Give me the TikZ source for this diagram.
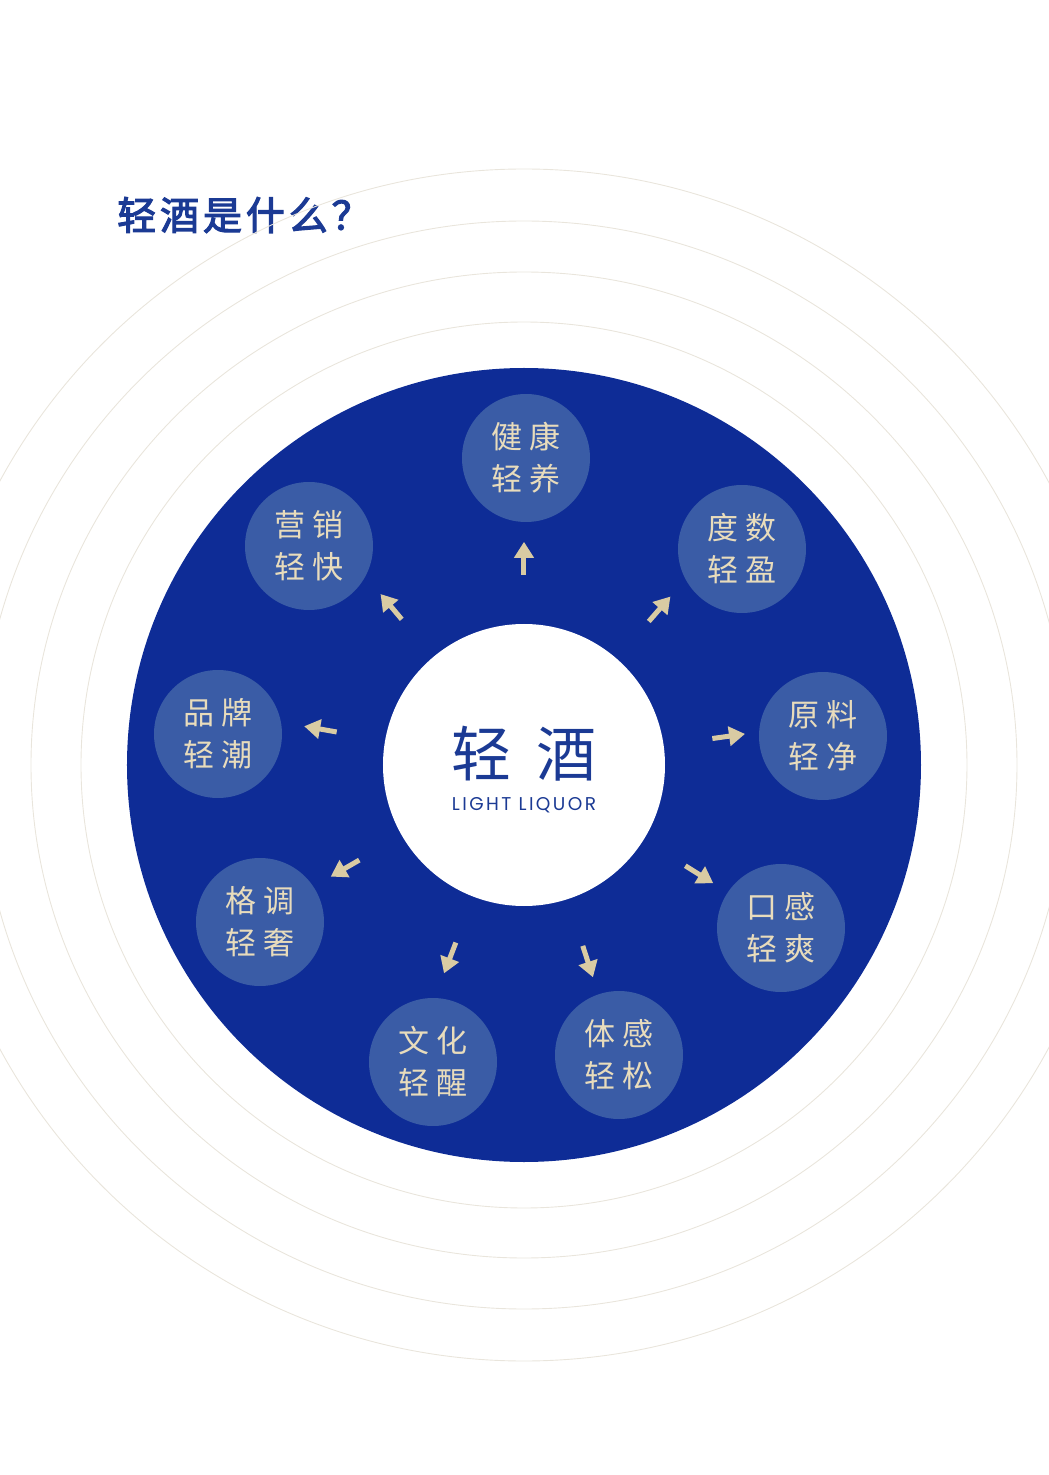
\documentclass[tikz,border=0pt]{standalone}
\usepackage{fontspec}
\setmainfont{Noto Sans CJK SC}
\newfontfamily\titlefont[LetterSpace=10, FakeBold=3]{Noto Sans CJK SC}
\newfontfamily\latinfont[LetterSpace=13]{Poppins}
\usetikzlibrary{arrows.meta}

\definecolor{deepblue}{HTML}{0E2C96}
\definecolor{titleblue}{HTML}{1B3A94}
\definecolor{petalblue}{HTML}{3A5CA6}
\definecolor{sand}{HTML}{E8DCBC}
\definecolor{arrowsand}{HTML}{D9CBA3}
\definecolor{ringgray}{HTML}{E9E5DC}

\newcommand{\duo}[2]{#1\hspace{7pt}#2}

\begin{document}
\begin{tikzpicture}[x=1pt, y=1pt,
    ring/.style={draw=ringgray, line width=0.9pt},
    hub/.style={circle, fill=white, minimum size=282pt, inner sep=0pt},
    petal/.style={circle, fill=petalblue, minimum size=128pt, inner sep=0pt, text=sand, align=center, font=\fontsize{31}{42}\selectfont},
    arrow/.style={-{Triangle[length=16pt,width=19pt]}, line width=5pt, arrowsand}
]
\useasboundingbox (-524,-710) rectangle (525,765);

% --- Title ---
\node[anchor=west, inner sep=0pt, text=titleblue, font=\titlefont\fontsize{39}{39}\selectfont] (title) at (-407,550) {轻酒是什么？};

% --- Rings and disc ---
\foreach \r in {443,493,544,596}
  \draw[ring] (0,0) circle (\r pt);
\fill[deepblue] (0,0) circle (397pt);

% --- Centre ---
\node[hub] (hub) at (0,0) {};
\node[inner sep=0pt, text=titleblue, font=\fontsize{60}{60}\selectfont] (hubname) at (0,11) {轻\hspace{25pt}酒};
\node[anchor=base, inner sep=0pt, text=titleblue, font=\latinfont\fontsize{18.5}{18.5}\selectfont] (hubsub) at (0,-45) {LIGHT LIQUOR};

% --- Petals ---
\node[petal] (health) at (2,307) {\duo{健}{康}\\\duo{轻}{养}};
\node[petal] (abv) at (218,216) {\duo{度}{数}\\\duo{轻}{盈}};
\node[petal] (ingredient) at (299,29) {\duo{原}{料}\\\duo{轻}{净}};
\node[petal] (taste) at (257,-163) {\duo{口}{感}\\\duo{轻}{爽}};
\node[petal] (body) at (95,-290) {\duo{体}{感}\\\duo{轻}{松}};
\node[petal] (culture) at (-91,-297) {\duo{文}{化}\\\duo{轻}{醒}};
\node[petal] (tone) at (-264,-157) {\duo{格}{调}\\\duo{轻}{奢}};
\node[petal] (brand) at (-306,31) {\duo{品}{牌}\\\duo{轻}{潮}};
\node[petal] (marketing) at (-215,219) {\duo{营}{销}\\\duo{轻}{快}};

% --- Arrows (radial, from the hub rim) ---
\foreach \a in {90,49,8,-32,-72,-111,-150,170,130}
  \draw[arrow] ([shift={(\a:49pt)}]hub.\a) -- ([shift={(\a:82pt)}]hub.\a);

\end{tikzpicture}
\end{document}
